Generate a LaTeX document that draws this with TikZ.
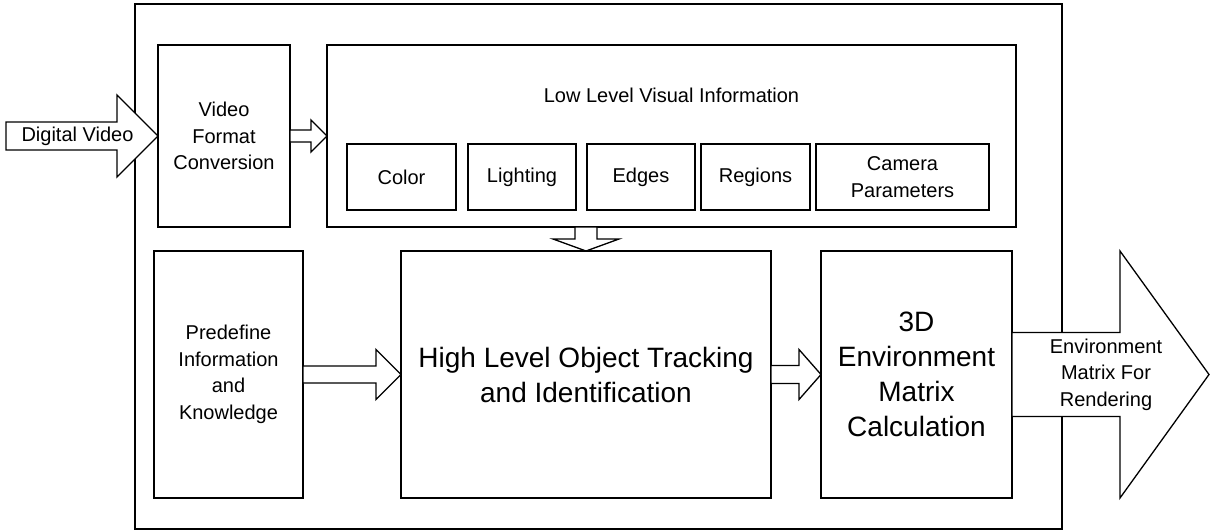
\documentclass[tikz,border=0pt]{standalone}
\usepackage{fontspec}
\setmainfont{Liberation Sans}
\usetikzlibrary{positioning, calc}

% block arrow, horizontal: from, to, shaft half width, head half width, head length
\newcommand{\harrow}[5]{%
  \draw[fill=white] ($(#1)+(0,#3)$) -- ($(#2)+(-#5,#3)$) -- ($(#2)+(-#5,#4)$) -- (#2)
    -- ($(#2)+(-#5,-#4)$) -- ($(#2)+(-#5,-#3)$) -- ($(#1)+(0,-#3)$) -- cycle;}
% block arrow, pointing down
\newcommand{\varrow}[5]{%
  \draw[fill=white] ($(#1)+(#3,0)$) -- ($(#2)+(#3,#5)$) -- ($(#2)+(#4,#5)$) -- (#2)
    -- ($(#2)+(-#4,#5)$) -- ($(#2)+(-#3,#5)$) -- ($(#1)+(-#3,0)$) -- cycle;}

\begin{document}
\begin{tikzpicture}[x=1pt, y=1pt, line width=1.3pt,
    font=\fontsize{20}{26.5}\selectfont,
    block/.style={draw, inner sep=0pt, outer sep=0pt, align=center},
    bigtext/.style={font=\fontsize{28}{35}\selectfont}]

\useasboundingbox (0,0) rectangle (1211,-531);

% outer frame

\node[draw, line width=1.1pt, minimum width=927pt, minimum height=525pt, outer sep=0pt] (frame) at (598.5,-266.5) {};

% top line of boxes

\node[block, minimum width=132pt, minimum height=182pt] (vfc) at (224,-136) {Video\\Format\\Conversion};
\node[block, minimum width=689pt, minimum height=182pt, right=37pt of vfc] (lowlevel) {};
\node (lowtitle) at (671.5,-95.5) {Low Level Visual Information};

\node[block, minimum width=109pt, minimum height=66pt] (color) at (401.5,-177) {Color};
\node[block, minimum width=108pt, minimum height=66pt, right=12pt of color] (lighting) {Lighting};
\node[block, minimum width=108pt, minimum height=66pt, right=11pt of lighting] (edges) {Edges};
\node[block, minimum width=109pt, minimum height=66pt, right=6pt of edges] (regions) {Regions};
\node[block, minimum width=173pt, minimum height=66pt, right=6pt of regions] (camera) {Camera\\Parameters};

% bottom line of boxes

\node[block, minimum width=149pt, minimum height=247pt] (predef) at (228.5,-374.5) {Predefine\\Information\\and\\Knowledge};
\node[block, bigtext, minimum width=370pt, minimum height=247pt, right=98pt of predef] (highlevel) {High Level Object Tracking\\and Identification};
\node[block, bigtext, minimum width=191pt, minimum height=247pt, right=50pt of highlevel] (envmatrix) {3D\\Environment\\Matrix\\Calculation};

% arrows

\coordinate (videoin) at (6,-136);
\harrow{videoin}{vfc.west}{14}{41}{41}
\node (videolabel) at (77.5,-136) {Digital Video};

\harrow{vfc.east}{lowlevel.west}{6}{16}{16}
\coordinate (lowout) at (lowlevel.south -| highlevel.north);
\varrow{lowout}{highlevel.north}{11}{33}{12}
\harrow{predef.east}{highlevel.west}{8.5}{25}{25}
\harrow{highlevel.east}{envmatrix.west}{9}{25}{22}

\coordinate (renderout) at (1209,-374.5);
\harrow{envmatrix.east}{renderout}{42}{123.5}{89}
\node[align=center] (renderlabel) at (1106,-374.5) {Environment\\Matrix For\\Rendering};

\end{tikzpicture}
\end{document}
